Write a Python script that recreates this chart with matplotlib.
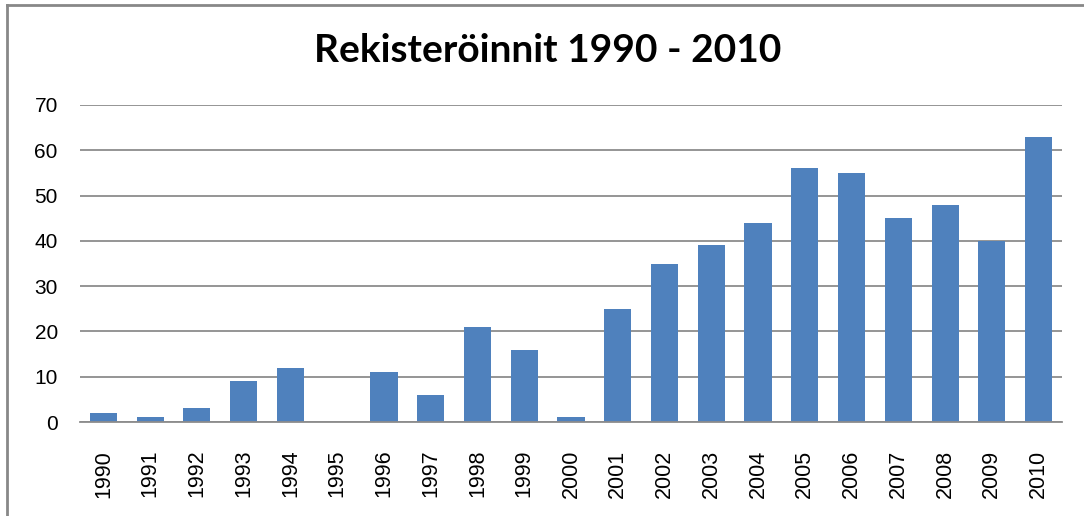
import numpy as np
import matplotlib
matplotlib.use("Agg")
import matplotlib.pyplot as plt
from matplotlib.lines import Line2D

# data
years = ["1990", "1991", "1992", "1993", "1994", "1995", "1996", "1997", "1998", "1999", "2000",
         "2001", "2002", "2003", "2004", "2005", "2006", "2007", "2008", "2009", "2010"]
registrations = [2, 1, 3, 9, 12, 0, 11, 6, 21, 16, 1,
                 25, 35, 39, 44, 56, 55, 45, 48, 40, 63]
y_ticks = [0, 10, 20, 30, 40, 50, 60, 70]
title = "Rekisteröinnit 1990 - 2010"

bar_color = "#4F81BD"
grid_color = "#8C8C8C"

fig = plt.figure(figsize=(10.84, 5.16), dpi=100)
ax = fig.add_axes([80 / 1084, 1 - 422 / 516, (1062 - 80) / 1084, (422 - 105) / 516])

x = np.arange(len(years))
ax.bar(x, registrations, width=0.58, color=bar_color, zorder=3)

ax.set_xlim(-0.5, len(years) - 0.5)
ax.set_ylim(0, 70)
ax.set_yticks(y_ticks)
ax.set_xticks(x)
ax.set_xticklabels(years, rotation=90, family="Liberation Sans", fontsize=15.5)
for lbl in ax.get_yticklabels():
    lbl.set_family("Liberation Sans")
    lbl.set_fontsize(15)

ax.yaxis.grid(True, color=grid_color, linewidth=1.3, zorder=0)
ax.tick_params(axis="y", length=0, pad=16, colors="black")
ax.tick_params(axis="x", length=0, pad=20, colors="black")
for side in ["left", "right", "top"]:
    ax.spines[side].set_visible(False)
ax.spines["bottom"].set_color(grid_color)
ax.spines["bottom"].set_linewidth(1.3)
ax.spines["bottom"].set_zorder(4)

fig.text(548 / 1084, 1 - 50 / 516, title, ha="center", va="center",
         family="Lato", fontweight="bold", fontsize=28)

# outer frame (top and left edges visible in the crop)
fig.add_artist(Line2D([7 / 1084, 7 / 1084], [0, 1 - 5 / 516], transform=fig.transFigure,
                      color="#888888", linewidth=2))
fig.add_artist(Line2D([7 / 1084, 1], [1 - 5 / 516, 1 - 5 / 516], transform=fig.transFigure,
                      color="#888888", linewidth=2))

fig.savefig("out.png", dpi=100)
